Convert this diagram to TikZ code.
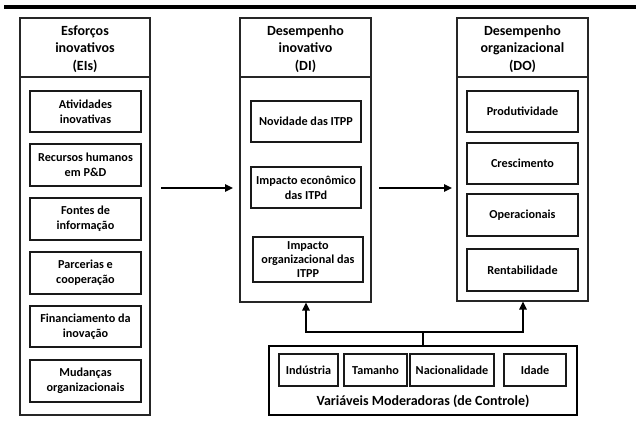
\documentclass[tikz,border=0pt]{standalone}
\usepackage{fontspec}
\setmainfont{Carlito}
\usetikzlibrary{arrows.meta}
\begin{document}
\begin{tikzpicture}[x=1pt,y=-1pt,
  outerbox/.style={draw=black!85,line width=1.1pt,inner sep=0pt},
  innerbox/.style={draw=black!90,line width=1.6pt,inner sep=0pt,align=center,
    font=\fontsize{12.2}{14.8}\selectfont\bfseries},
  headtext/.style={align=center,inner sep=0pt,font=\fontsize{14}{17.5}\selectfont\bfseries},
  divline/.style={draw=black!85,line width=1.1pt},
  conn/.style={line width=1.4pt,draw=black},
  arr/.style={conn,-{Triangle[length=8pt,width=7.5pt]}}]
\useasboundingbox (0,0) rectangle (636,420);
% top rule
\draw[line width=4pt] (4,7) -- (636,7);
% ---------- EIs ----------
\node[outerbox,minimum width=130pt,minimum height=397pt] (EIs) at (85,216.5) {};
\draw[divline] (20,77) -- (150,77);
\node[headtext] (EIsh) at (85,49) {Esforços\\inovativos\\(EIs)};
\node[innerbox,minimum width=111pt,minimum height=41pt] (e1) at (85.5,111.5) {Atividades\\inovativas};
\node[innerbox,minimum width=111pt,minimum height=42pt] (e2) at (85.5,165) {Recursos humanos\\em P\&D};
\node[innerbox,minimum width=111pt,minimum height=42pt] (e3) at (85.5,219) {Fontes de\\informação};
\node[innerbox,minimum width=111pt,minimum height=42pt] (e4) at (85.5,273) {Parcerias e\\cooperação};
\node[innerbox,minimum width=111pt,minimum height=41pt] (e5) at (85.5,326.5) {Financiamento da\\inovação};
\node[innerbox,minimum width=111pt,minimum height=42pt] (e6) at (85.5,381) {Mudanças\\organizacionais};
% ---------- DI ----------
\node[outerbox,minimum width=131pt,minimum height=284pt] (DI) at (305.5,160) {};
\draw[divline] (240,77) -- (371,77);
\node[headtext] (DIh) at (305.5,49) {Desempenho\\inovativo\\(DI)};
\node[innerbox,minimum width=110pt,minimum height=41pt] (d1) at (306,121.5) {Novidade das ITPP};
\node[innerbox,minimum width=110pt,minimum height=41pt] (d2) at (306,187.5) {Impacto econômico\\das ITPd};
\node[innerbox,minimum width=110pt,minimum height=45pt,font=\fontsize{12.2}{14}\selectfont\bfseries] (d3) at (308,259.5) {Impacto\\organizacional das\\ITPP};
% ---------- DO ----------
\node[outerbox,minimum width=131pt,minimum height=283pt] (DO) at (522.5,159.5) {};
\draw[divline] (457,77) -- (588,77);
\node[headtext] (DOh) at (522.5,49) {Desempenho\\organizacional\\(DO)};
\node[innerbox,minimum width=111pt,minimum height=41pt] (o1) at (522.5,111.5) {Produtividade};
\node[innerbox,minimum width=111pt,minimum height=41pt] (o2) at (522.5,163.5) {Crescimento};
\node[innerbox,minimum width=111pt,minimum height=42pt] (o3) at (522.5,215) {Operacionais};
\node[innerbox,minimum width=111pt,minimum height=42pt] (o4) at (522.5,270) {Rentabilidade};
% ---------- Moderators ----------
\node[outerbox,draw=black,line width=1.3pt,minimum width=308pt,minimum height=69pt] (MV) at (423,380.5) {};
\node[innerbox,minimum width=59pt,minimum height=32pt] (m1) at (308.5,370) {Indústria};
\node[innerbox,minimum width=63pt,minimum height=32pt] (m2) at (375.5,370) {Tamanho};
\node[innerbox,minimum width=84pt,minimum height=32pt] (m3) at (452,370) {Nacionalidade};
\node[innerbox,minimum width=62pt,minimum height=32pt] (m4) at (535,370) {Idade};
\node[headtext,font=\fontsize{14}{16}\selectfont\bfseries] (MVl) at (423,401) {Variáveis Moderadoras (de Controle)};
% ---------- connectors ----------
\coordinate (a1s) at (161,188);
\coordinate (a1e) at (233,188);
\coordinate (a2s) at (379,188);
\coordinate (a2e) at (452,188);
\draw[arr] (a1s) -- (a1e);
\draw[arr] (a2s) -- (a2e);
\coordinate (hub) at (423,332);
\draw[conn] (MV.north) -- (hub);
\draw[arr] (hub) -| (DI.south -| 306,0);
\draw[arr] (hub) -| (DO.south -| 523,0);
\end{tikzpicture}
\end{document}
